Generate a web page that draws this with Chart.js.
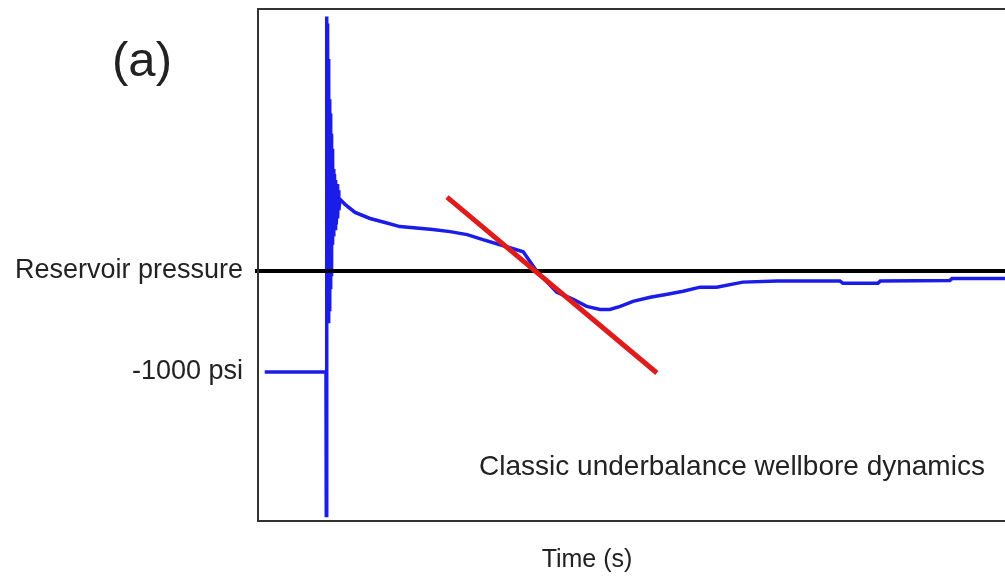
<!DOCTYPE html>
<html>
<head>
<meta charset="utf-8">
<script src="https://cdn.jsdelivr.net/npm/chart.js@4"></script>
<style>
 html,body{margin:0;padding:0;background:#fff;overflow:hidden}
 #wrap{width:1005px;height:577px;position:relative}
</style>
</head>
<body>
<div id="wrap"><canvas id="chart"></canvas></div>
<script>
// wellbore pressure, psi relative to reservoir pressure
const blueTime=[0.9,9.1,9.14,9.18,9.22,9.26,9.3,9.34,9.38,9.42,9.46,9.5,9.54,9.58,9.63,9.67,9.71,9.75,9.79,9.83,9.87,9.91,9.96,10.01,10.07,10.12,10.17,10.24,10.31,10.39,10.48,10.58,10.66,10.74,10.82,10.98,11.65,13,15,17,19,23.4,25.7,28,30.1,32.4,35.5,37.3,40,42.2,44,45.8,47.1,48.5,50.2,52.5,54.8,56.9,59.2,61.4,64.9,69.5,77.9,78.3,83,83.3,92.6,92.9,100];
const bluePsi=[-1000,-1000,-2420,2520,-480,2450,-460,2300,-500,2100,-430,1900,-380,1700,-280,1560,-180,1460,-35,1360,110,1210,260,1110,360,1010,380,960,420,900,460,860,520,800,600,710,660,580,520,480,440,410,390,360,310,260,190,0,-210,-280,-350,-380,-380,-350,-300,-260,-230,-200,-160,-160,-110,-100,-100,-120,-120,-100,-95,-75,-75];
const fitTime=[25.3,53.4];
const fitPsi=[731,-1010];
const reservoirTime=[-0.4,100];
const reservoirPsi=[0,0];
const tickValues=[0,-1000];
const tickLabels=['Reservoir pressure','-1000 psi'];

const pts=(xs,ys)=>xs.map((x,i)=>({x:x,y:ys[i]}));
const font='"Liberation Sans", Arial, sans-serif';
const ink='#222';

const extras={
 id:'extras',
 afterDraw(chart){
  const {ctx,chartArea:a}=chart;
  ctx.save();
  ctx.strokeStyle='#333';ctx.lineWidth=2;
  ctx.beginPath();
  ctx.moveTo(a.right,a.top);ctx.lineTo(a.left,a.top);
  ctx.lineTo(a.left,a.bottom);ctx.lineTo(a.right,a.bottom);
  ctx.stroke();
  ctx.fillStyle=ink;ctx.textAlign='center';ctx.textBaseline='middle';
  ctx.font='49px '+font;ctx.fillText('(a)',142,62);
  ctx.font='28px '+font;ctx.fillText('Classic underbalance wellbore dynamics',732,467);
  ctx.font='25px '+font;ctx.fillText('Time (s)',587,560);
  ctx.restore();
 }
};

new Chart(document.getElementById('chart'),{
 type:'line',
 data:{datasets:[
  {label:'Linear fit',data:pts(fitTime,fitPsi),borderColor:'#e01b1b',borderWidth:5,order:0},
  {label:'Reservoir pressure',data:pts(reservoirTime,reservoirPsi),borderColor:'#000',borderWidth:4,order:1,clip:false},
  {label:'Wellbore pressure',data:pts(blueTime,bluePsi),borderColor:'#1c1ce8',borderWidth:3.5,order:2}
 ]},
 options:{
  responsive:true,maintainAspectRatio:false,animation:false,
  layout:{padding:{top:9,left:0,right:0,bottom:0}},
  elements:{point:{radius:0},line:{tension:0}},
  plugins:{legend:{display:false},tooltip:{enabled:false}},
  scales:{
   x:{type:'linear',min:0,max:100,
    ticks:{display:false},grid:{display:false},border:{display:false},
    afterFit:s=>{s.height=56;s.paddingLeft=0;s.paddingRight=0;}},
   y:{type:'linear',min:-2475,max:2594,
    grid:{display:false,drawTicks:false},border:{display:false},
    afterBuildTicks:s=>{s.ticks=tickValues.map(v=>({value:v}));},
    ticks:{color:ink,padding:15,font:{family:font,size:27},
     callback:v=>tickLabels[tickValues.indexOf(v)]},
    afterFit:s=>{s.width=258;s.paddingTop=0;s.paddingBottom=0;}}
  }
 },
 plugins:[extras]
});
</script>
</body>
</html>
